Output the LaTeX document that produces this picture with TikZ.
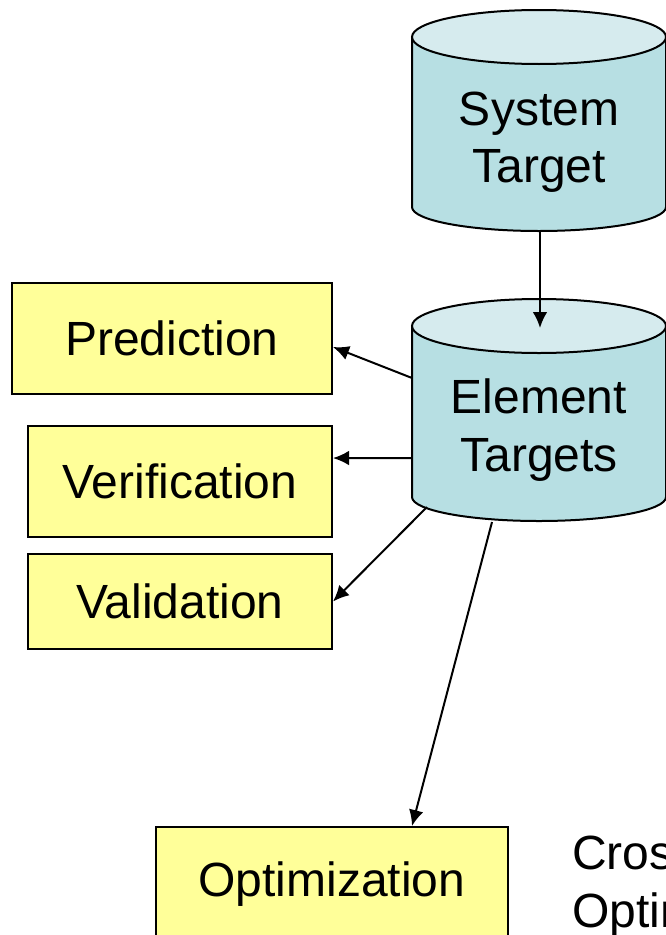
\documentclass[tikz,border=0pt]{standalone}
\usepackage{fontspec}
\setmainfont{Liberation Sans}
\usepackage{xcolor}
\usetikzlibrary{arrows.meta}

\definecolor{boxyellow}{HTML}{FFFF99}
\definecolor{cylbody}{HTML}{B7DFE3}
\definecolor{cyltop}{HTML}{D6EBEE}

\tikzset{
  taskbox/.style={draw=black, line width=1.5pt, fill=boxyellow, inner sep=0pt,
    font=\fontsize{36}{43}\selectfont},
  cyltext/.style={align=center, inner sep=0pt, font=\fontsize{36}{43}\selectfont},
  arr/.style={line width=1.5pt, -{Latex[length=12pt,width=11pt]}}
}

\begin{document}
\begin{tikzpicture}[x=0.75pt,y=-0.75pt]
  \useasboundingbox (0,0) rectangle (666,935);
  \clip (0,0) rectangle (666,935);

  % cylinders: top ellipse centre / bottom ellipse centre
  \foreach \ytop/\ybot in {37/207, 326/497} {
    \fill[cylbody] (412,\ytop) -- (412,\ybot) arc[start angle=180, end angle=0, x radius=127, y radius=24]
      -- (666,\ytop) -- cycle;
    \draw[line width=1.5pt] (412,\ytop) -- (412,\ybot) arc[start angle=180, end angle=0, x radius=127, y radius=24]
      -- (666,\ytop);
    \draw[line width=1.5pt, fill=cyltop] (539,\ytop) ellipse[x radius=127, y radius=27];
  }
  \node[cyltext] (ST) at (539,142) {System\\Target};
  \node[cyltext] (ET) at (539,430) {Element\\Targets};
  \coordinate (ST-bot) at (540,232);
  \coordinate (ET-top) at (540,328);
  \coordinate (ET-w1) at (412,378);
  \coordinate (ET-w2) at (412,458);
  \coordinate (ET-sw) at (427,507);
  \coordinate (ET-s) at (492,522);

  \node[taskbox, minimum width=240pt, minimum height=83.25pt] (P) at (172,338) {\raisebox{-1.5pt}{Prediction}};
  \node[taskbox, minimum width=228pt, minimum height=83.25pt] (Ve) at (180,481.5) {\raisebox{-1.5pt}{Verification}};
  \node[taskbox, minimum width=228pt, minimum height=71.25pt] (Va) at (180,601.5) {\raisebox{-1.5pt}{Validation}};
  \node[taskbox, minimum width=264pt, minimum height=85pt, anchor=north] (O) at (332,826) {\raisebox{-3pt}{Optimization}};
  \node[cyltext, align=left, anchor=west] (CO) at (572,886) {Cross-element\\Optimization};

  \draw[arr] (ST-bot) -- (ET-top);
  \draw[arr] (ET-w1) -- ([yshift=-6.75pt]P.east);
  \draw[arr] (ET-w2) -- ([yshift=17.6pt]Ve.east);
  \draw[arr] (ET-sw) -- (Va.east);
  \draw[arr] (ET-s) -- ([xshift=60pt]O.north);
\end{tikzpicture}
\end{document}
